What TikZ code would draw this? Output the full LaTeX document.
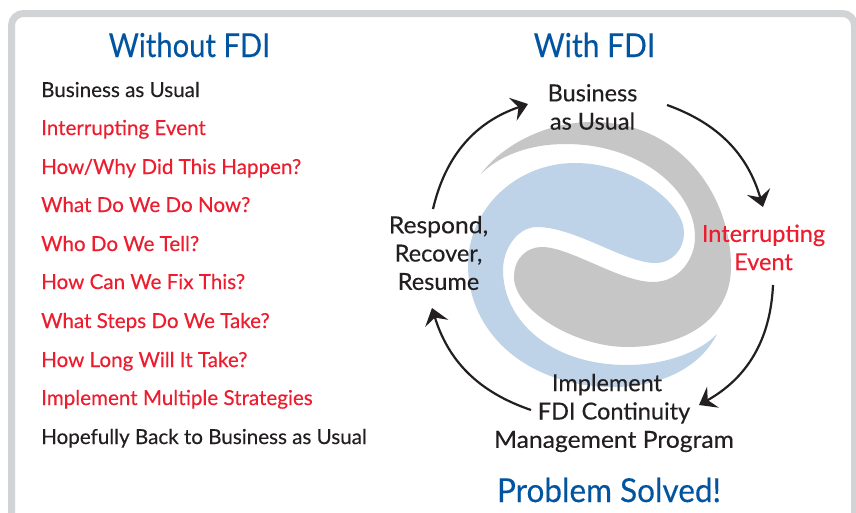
\documentclass[tikz,border=0pt]{standalone}
\usepackage{fontspec}
\setmainfont{Lato}[FakeBold=0.25]
\usetikzlibrary{arrows.meta}
\definecolor{fdiblue}{HTML}{0054A0}
\definecolor{fdired}{HTML}{ED1C2E}
\definecolor{fdiink}{HTML}{231F20}
\definecolor{fdigray}{HTML}{C6C6C6}
\definecolor{fdilblue}{HTML}{BED3E8}
\definecolor{fdiframe}{HTML}{D1D3D4}
\tikzset{
  x=1pt,y=-1pt,
  head/.style={font=\fontsize{33}{36}\selectfont,text=fdiblue,inner sep=0pt,anchor=center},
  item/.style={font=\fontsize{20.6}{24}\selectfont,inner sep=0pt,anchor=base west},
  bad/.style={item,text=fdired},
  ok/.style={item,text=fdiink},
  cyc/.style={font=\fontsize{23.5}{28.3}\selectfont,align=center,inner sep=0pt,text=fdiink,anchor=center},
  flow/.style={draw=fdiink,line width=2.2pt,-{Stealth[length=16pt,width=24pt,inset=6pt]}}
}
\begin{document}
\begin{tikzpicture}
\useasboundingbox (0,0) rectangle (856,512);
\fill[white] (0,0) rectangle (856,512);
\draw[fdiframe,line width=7pt,rounded corners=12pt] (11.5,530) -- (11.5,13.5) -- (854.5,13.5) -- (854.5,530);
% swirl
\fill[fdigray] (481,174) .. controls (498,150) and (540,122) .. (593,122)
  .. controls (680,122) and (731,195) .. (731,267)
  .. controls (731,315) and (690,347) .. (627,347)
  .. controls (575,347) and (514,310) .. (514,277)
  .. controls (514,258) and (527,247) .. (542,247)
  .. controls (570,247) and (620,282) .. (653,282)
  .. controls (680,282) and (695,258) .. (695,237)
  .. controls (695,190) and (640,144) .. (566,144)
  .. controls (530,144) and (500,155) .. (481,174) -- cycle;
\fill[fdilblue] (717,334) .. controls (700,368) and (660,387) .. (613,387)
  .. controls (530,387) and (468,335) .. (468,265)
  .. controls (468,210) and (515,163) .. (575,163)
  .. controls (635,163) and (684,205) .. (684,232)
  .. controls (684,250) and (672,263) .. (655,263)
  .. controls (625,263) and (575,227) .. (537,227)
  .. controls (518,227) and (503,248) .. (503,270)
  .. controls (503,320) and (550,365) .. (627,365)
  .. controls (665,365) and (700,352) .. (717,334) -- cycle;
% left column
\node[head] (h1) at (189.5,45) {\scalebox{0.885}[1]{Without FDI}};
\node[head] (h2) at (594.5,45) {\scalebox{0.91}[1]{With FDI}};
\node[ok]  (l1)  at (41,97)  {Business as Usual};
\node[bad] (l2)  at (41,135) {Interrupting Event};
\node[bad] (l3)  at (41,174) {How/Why Did This Happen?};
\node[bad] (l4)  at (41,212) {What Do We Do Now?};
\node[bad] (l5)  at (41,251) {Who Do We Tell?};
\node[bad] (l6)  at (41,289) {How Can We Fix This?};
\node[bad] (l7)  at (41,328) {What Steps Do We Take?};
\node[bad] (l8)  at (41,367) {How Long Will It Take?};
\node[bad] (l9)  at (41,405) {Implement Multiple Strategies};
\node[ok]  (l10) at (41,444) {Hopefully Back to Business as Usual};
% cycle labels
\node[cyc] (bau) at (592.5,107) {Business\\as Usual};
\node[cyc,text=fdired] (ie) at (763.5,247.5) {Interrupting\\Event};
\node[cyc] (impl) at (614,413) {\hspace*{-14pt}Implement\\FDI Continuity\\\scalebox{1.05}[1]{Management Program}};
\node[cyc] (rrr) at (438.5,253) {\scalebox{1.05}[1]{Respond,}\\Recover,\\Resume};
\node[head] (ps) at (609,490) {\scalebox{0.955}[1]{Problem Solved!}};
% connectors
\coordinate (a1) at (433,209);
\coordinate (a2) at (528,104);
\coordinate (b1) at (667,105);
\coordinate (b2) at (763,207);
\coordinate (c1) at (773,285);
\coordinate (c2) at (699,405);
\coordinate (d1) at (531,410);
\coordinate (d2) at (432,308);
\draw[flow] (a1) to[bend left=29] (a2);
\draw[flow] (b1) to[bend left=27] (b2);
\draw[flow] (c1) to[bend left=29] (c2);
\draw[flow] (d1) to[bend left=27] (d2);
\end{tikzpicture}
\end{document}
